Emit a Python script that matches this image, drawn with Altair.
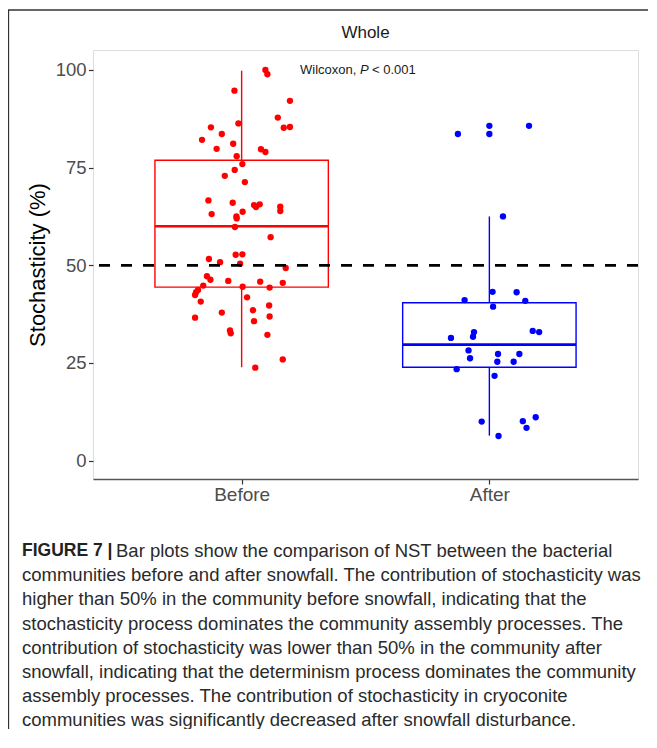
import altair as alt
import pandas as pd

# ---------------- data ----------------
groups = ["Before", "After"]
colors = ["#ff0000", "#0000ff"]

before_vals = [100.0, 98.9, 94.7, 92.1, 87.8, 86.3, 85.3, 85.4, 85.2, 83.6, 82.1, 81.1,
               79.8, 79.7, 79.0, 77.9, 75.9, 74.4, 72.9, 71.3, 66.6, 66.0, 65.4, 64.9,
               65.6, 65.0, 63.9, 63.1, 63.7, 62.5, 62.0, 59.8, 57.2, 52.7, 52.8, 51.6,
               50.8, 50.4, 49.3, 47.2, 46.3, 46.0, 45.8, 45.5, 44.8, 44.5, 44.3, 43.7,
               43.1, 42.4, 41.8, 40.7, 39.7, 38.5, 37.9, 36.6, 36.9, 35.7, 33.3, 32.6,
               32.2, 25.9, 23.8]
before_jitter = [0.096, 0.104, -0.029, 0.195, 0.146, -0.013, -0.124, 0.195, 0.170, -0.080,
                 -0.160, -0.034, -0.101, 0.078, 0.096, -0.020, 0.003, -0.028, -0.068, 0.013,
                 -0.134, -0.036, 0.050, 0.058, 0.073, 0.156, 0.156, -0.121, 0.004, -0.021,
                 -0.020, -0.027, 0.117, -0.024, 0.003, -0.132, -0.087, -0.006, 0.178, -0.140,
                 -0.126, -0.054, 0.075, 0.166, -0.155, 0.004, 0.113, -0.176, -0.184, -0.188,
                 0.022, -0.165, 0.111, 0.046, -0.080, -0.188, 0.113, 0.050, -0.047, -0.044,
                 0.104, 0.166, 0.055]

after_vals = [83.6, 85.7, 83.6, 85.7, 62.5, 43.2, 43.1, 41.1, 40.9, 39.4, 32.9, 33.2, 32.9,
              31.7, 31.4, 28.2, 27.3, 27.3, 26.2, 25.3, 25.3, 23.4, 21.7, 10.0, 11.1, 10.1,
              8.4, 6.3]
after_jitter = [-0.127, 0.000, 0.000, 0.160, 0.055, 0.013, 0.110, -0.100, 0.145, 0.015,
                -0.062, 0.175, 0.201, -0.066, -0.155, -0.084, 0.121, 0.035, -0.078, 0.032,
                0.098, -0.132, 0.021, -0.031, 0.187, 0.135, 0.150, 0.037]

# box statistics: lower whisker, Q1, median, Q3, upper whisker
box_low = [23.9, 6.4]
box_q1 = [44.4, 23.9]
box_median = [60.0, 29.7]
box_q3 = [76.9, 40.4]
box_high = [99.8, 62.5]
box_half_width = 0.35

reference_line = [50]

caption_lines = [
    "Bar plots show the comparison of NST between the bacterial",
    "communities before and after snowfall. The contribution of stochasticity was",
    "higher than 50% in the community before snowfall, indicating that the",
    "stochasticity process dominates the community assembly processes. The",
    "contribution of stochasticity was lower than 50% in the community after",
    "snowfall, indicating that the determinism process dominates the community",
    "assembly processes. The contribution of stochasticity in cryoconite",
    "communities was significantly decreased after snowfall disturbance.",
]

# ---------------- tables ----------------
pts = pd.DataFrame({
    "group": ["Before"] * len(before_vals) + ["After"] * len(after_vals),
    "value": before_vals + after_vals,
    "pos": [1 + j for j in before_jitter] + [2 + j for j in after_jitter],
})
box = pd.DataFrame({
    "group": groups,
    "center": [1, 2],
    "left": [1 - box_half_width, 2 - box_half_width],
    "right": [1 + box_half_width, 2 + box_half_width],
    "low": box_low, "q1": box_q1, "median": box_median, "q3": box_q3, "high": box_high,
})
hline = pd.DataFrame({"y": reference_line})

FONT = "Liberation Sans"
xscale = alt.Scale(domain=[0.4, 2.6], nice=False, zero=False)
yscale = alt.Scale(domain=[-4.7, 105.1], nice=False, zero=False)
cscale = alt.Scale(domain=groups, range=colors)

xaxis = alt.Axis(values=[1, 2], labelExpr="datum.value == 1 ? 'Before' : 'After'",
                 grid=False, title=None, tickSize=5, tickColor="#333333", tickWidth=1.2,
                 labelFontSize=19, labelColor="#4d4d4d", labelFont=FONT, labelPadding=1,
                 domainColor="#555555", domainWidth=1.3)
yaxis = alt.Axis(values=[0, 25, 50, 75, 100], grid=False, title="Stochasticity (%)",
                 tickSize=4.5, tickColor="#333333", tickWidth=1.2,
                 labelFontSize=18.5, labelColor="#4d4d4d", labelFont=FONT, labelPadding=2.5,
                 titleFontSize=22, titleFontWeight="normal", titleColor="#000000",
                 titleFont=FONT, titlePadding=6, domain=False)

base_box = alt.Chart(box)
rects = base_box.mark_rect(fill=None, strokeWidth=1.4, filled=False).encode(
    x=alt.X("left:Q", scale=xscale, axis=xaxis),
    x2="right:Q",
    y=alt.Y("q1:Q", scale=yscale, axis=yaxis),
    y2="q3:Q",
    stroke=alt.Color("group:N", scale=cscale, legend=None),
)
medians = base_box.mark_rule(strokeWidth=2.6).encode(
    x="left:Q", x2="right:Q", y="median:Q",
    color=alt.Color("group:N", scale=cscale, legend=None),
)
wh_low = base_box.mark_rule(strokeWidth=1.4).encode(
    x="center:Q", y="low:Q", y2="q1:Q",
    color=alt.Color("group:N", scale=cscale, legend=None),
)
wh_high = base_box.mark_rule(strokeWidth=1.4).encode(
    x="center:Q", y="q3:Q", y2="high:Q",
    color=alt.Color("group:N", scale=cscale, legend=None),
)
points = alt.Chart(pts).mark_circle(size=40, opacity=1).encode(
    x="pos:Q", y="value:Q",
    color=alt.Color("group:N", scale=cscale, legend=None),
)
dashed = alt.Chart(hline).mark_rule(color="#000000", strokeWidth=2.7,
                                    strokeDash=[11, 11]).encode(y="y:Q")


def text(txt, x, y, size=13, weight="normal", style="normal", color="#1a1a1a",
         align="left", baseline="middle", font=FONT):
    return alt.Chart(pd.DataFrame({"t": [txt]})).mark_text(
        fontSize=size, fontWeight=weight, fontStyle=style, color=color, align=align,
        baseline=baseline, font=font,
    ).encode(text="t:N", x=alt.value(x), y=alt.value(y))


# coordinates below are relative to the plot origin (93, 50) on the page
annots = [
    text("Whole", 272.5, -17, size=17, align="center", color="#1a1a1a"),
    text("Wilcoxon,", 207, 20, size=13),
    text("P", 267, 20, size=13, style="italic"),
    text("< 0.001", 279, 20, size=13),
    text("FIGURE 7 |", -71, 501, size=17.5, weight="bold", color="#222222"),
    text(caption_lines[0], 23, 501, size=18.5, color="#2a2a2a"),
]
for i, line in enumerate(caption_lines[1:], start=1):
    annots.append(text(line, -71, 501 + i * 24.2, size=18.5, color="#2a2a2a"))

frame_top = alt.Chart(pd.DataFrame({"a": [0]})).mark_rule(
    color="#333333", strokeWidth=1.3).encode(
    x=alt.value(-85), x2=alt.value(570), y=alt.value(-40))
frame_left = alt.Chart(pd.DataFrame({"a": [0]})).mark_rule(
    color="#333333", strokeWidth=1.3).encode(
    x=alt.value(-84.5), y=alt.value(-40), y2=alt.value(700))

chart = alt.layer(
    rects, wh_low, wh_high, medians, points, dashed, frame_top, frame_left, *annots
).properties(
    width=545, height=429,
    autosize=alt.AutoSizeParams(type="none"),
    padding={"left": 85, "top": 42, "right": 10, "bottom": 250},
).configure_view(
    stroke="#9a9a9a", strokeWidth=1.6
).configure(background="white")

chart.save("out.html", embed_options={"renderer": "svg", "actions": False})
